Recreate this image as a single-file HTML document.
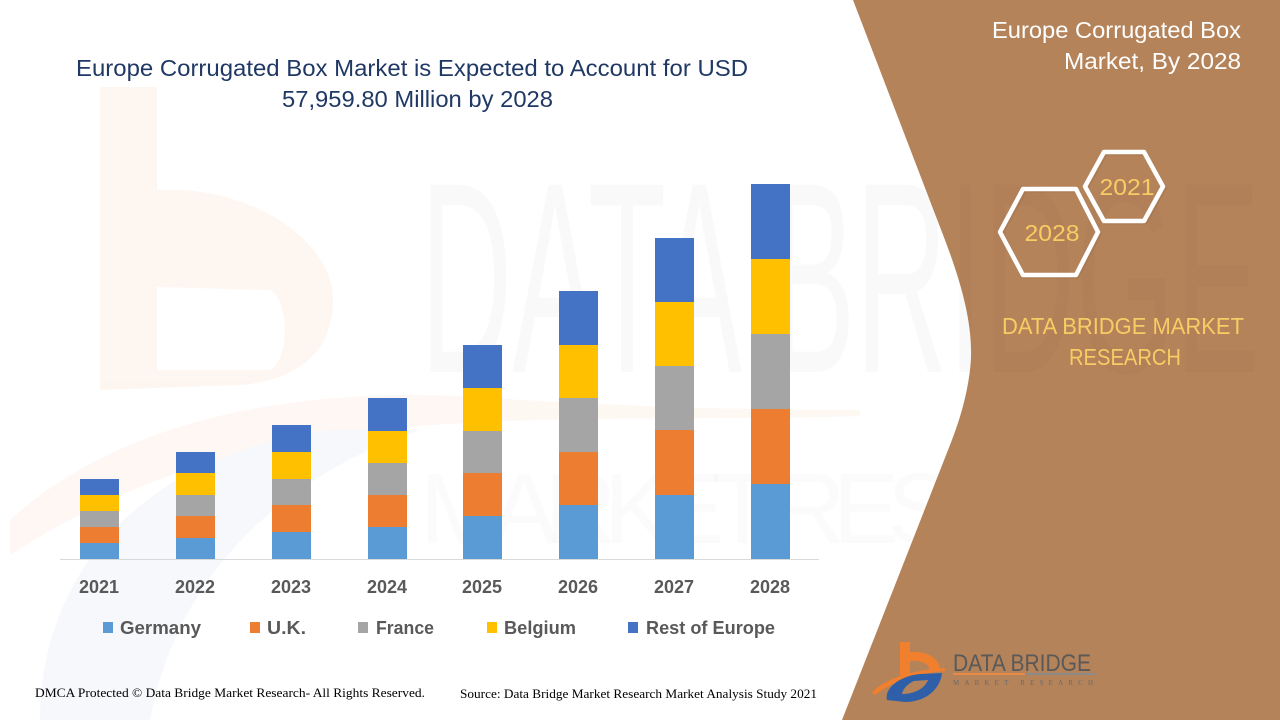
<!DOCTYPE html>
<html><head><meta charset="utf-8"><style>
html,body{margin:0;padding:0;background:#fff;}
svg{display:block;}
</style></head><body>
<svg width="1280" height="720" viewBox="0 0 1280 720" xmlns="http://www.w3.org/2000/svg">
<defs><clipPath id="cp"><path d="M853,0 L945,240 C962,285 975,330 970,370 C967,395 960,420 950,445 L842,720 L1280,720 L1280,0 Z"/></clipPath></defs>
<rect width="1280" height="720" fill="#fff"/>
<!-- watermark b logo (faint) -->
<g opacity="0.4">
<path d="M100,87 L157,87 L157,190 C250,185 333,240 333,300 C333,350 300,380 240,385 L100,390 Z M157,287 L157,370 L270,370 C290,360 290,300 270,290 Z" fill="#FCE9DC" fill-rule="evenodd"/>
<path d="M10,520 C120,420 300,380 520,400 C700,410 820,410 860,410 L860,416 C700,422 480,410 300,440 C170,465 80,510 10,555 Z" fill="#FDEDE2"/>
<path d="M40,720 C40,560 160,450 330,430 L420,430 C300,470 180,560 150,720 Z" fill="#E9EEF6"/>
</g>
<!-- watermark big text -->
<text x="420" y="372" font-family="Liberation Sans, sans-serif" font-size="272" fill="#000" fill-opacity="0.022" textLength="840" lengthAdjust="spacingAndGlyphs">DATA BRIDGE</text>
<text x="420" y="543" font-family="Liberation Sans, sans-serif" font-size="100" fill="#000" fill-opacity="0.015" textLength="840" lengthAdjust="spacing" letter-spacing="20">MARKET RESEARCH</text>

<!-- brown panel -->
<path d="M853,0 L945,240 C962,285 975,330 970,370 C967,395 960,420 950,445 L842,720 L1280,720 L1280,0 Z" fill="#B4835A"/>
<text x="420" y="372" font-family="Liberation Sans, sans-serif" font-size="272" fill="#000" fill-opacity="0.015" textLength="840" lengthAdjust="spacingAndGlyphs" clip-path="url(#cp)">DATA BRIDGE</text>

<!-- title -->
<g font-family="Liberation Sans, sans-serif" fill="#203864" font-size="23">
<text x="76" y="76" textLength="672" lengthAdjust="spacingAndGlyphs">Europe Corrugated Box Market is Expected to Account for USD</text>
<text x="282" y="107" textLength="271" lengthAdjust="spacingAndGlyphs">57,959.80 Million by 2028</text>
</g>

<!-- axis -->
<line x1="60" y1="559.5" x2="819" y2="559.5" stroke="#D9D9D9" stroke-width="1"/>

<!-- bars -->
<g>
<rect x="80" y="543" width="39" height="16" fill="#5B9BD5"/>
<rect x="80" y="527" width="39" height="16" fill="#ED7D31"/>
<rect x="80" y="511" width="39" height="16" fill="#A5A5A5"/>
<rect x="80" y="495" width="39" height="16" fill="#FFC000"/>
<rect x="80" y="479" width="39" height="16" fill="#4472C4"/>
<rect x="176" y="538" width="39" height="21" fill="#5B9BD5"/>
<rect x="176" y="516" width="39" height="22" fill="#ED7D31"/>
<rect x="176" y="495" width="39" height="21" fill="#A5A5A5"/>
<rect x="176" y="473" width="39" height="22" fill="#FFC000"/>
<rect x="176" y="452" width="39" height="21" fill="#4472C4"/>
<rect x="272" y="532" width="39" height="27" fill="#5B9BD5"/>
<rect x="272" y="505" width="39" height="27" fill="#ED7D31"/>
<rect x="272" y="479" width="39" height="26" fill="#A5A5A5"/>
<rect x="272" y="452" width="39" height="27" fill="#FFC000"/>
<rect x="272" y="425" width="39" height="27" fill="#4472C4"/>
<rect x="368" y="527" width="39" height="32" fill="#5B9BD5"/>
<rect x="368" y="495" width="39" height="32" fill="#ED7D31"/>
<rect x="368" y="463" width="39" height="32" fill="#A5A5A5"/>
<rect x="368" y="431" width="39" height="32" fill="#FFC000"/>
<rect x="368" y="398" width="39" height="33" fill="#4472C4"/>
<rect x="463" y="516" width="39" height="43" fill="#5B9BD5"/>
<rect x="463" y="473" width="39" height="43" fill="#ED7D31"/>
<rect x="463" y="431" width="39" height="42" fill="#A5A5A5"/>
<rect x="463" y="388" width="39" height="43" fill="#FFC000"/>
<rect x="463" y="345" width="39" height="43" fill="#4472C4"/>
<rect x="559" y="505" width="39" height="54" fill="#5B9BD5"/>
<rect x="559" y="452" width="39" height="53" fill="#ED7D31"/>
<rect x="559" y="398" width="39" height="54" fill="#A5A5A5"/>
<rect x="559" y="345" width="39" height="53" fill="#FFC000"/>
<rect x="559" y="291" width="39" height="54" fill="#4472C4"/>
<rect x="655" y="495" width="39" height="64" fill="#5B9BD5"/>
<rect x="655" y="430" width="39" height="65" fill="#ED7D31"/>
<rect x="655" y="366" width="39" height="64" fill="#A5A5A5"/>
<rect x="655" y="302" width="39" height="64" fill="#FFC000"/>
<rect x="655" y="238" width="39" height="64" fill="#4472C4"/>
<rect x="751" y="484" width="39" height="75" fill="#5B9BD5"/>
<rect x="751" y="409" width="39" height="75" fill="#ED7D31"/>
<rect x="751" y="334" width="39" height="75" fill="#A5A5A5"/>
<rect x="751" y="259" width="39" height="75" fill="#FFC000"/>
<rect x="751" y="184" width="39" height="75" fill="#4472C4"/>
</g>

<!-- year labels -->
<g font-family="Liberation Sans, sans-serif" font-weight="bold" font-size="18" fill="#595959" text-anchor="middle">
<text x="99" y="593">2021</text>
<text x="195" y="593">2022</text>
<text x="291" y="593">2023</text>
<text x="387" y="593">2024</text>
<text x="482" y="593">2025</text>
<text x="578" y="593">2026</text>
<text x="674" y="593">2027</text>
<text x="770" y="593">2028</text>
</g>

<!-- legend -->
<g font-family="Liberation Sans, sans-serif" font-weight="bold" font-size="18" fill="#595959">
<rect x="103" y="622" width="10" height="11" fill="#5B9BD5"/>
<text x="120" y="634" textLength="81" lengthAdjust="spacingAndGlyphs">Germany</text>
<rect x="250" y="622" width="10" height="11" fill="#ED7D31"/>
<text x="267" y="634" textLength="39" lengthAdjust="spacingAndGlyphs">U.K.</text>
<rect x="358" y="622" width="10" height="11" fill="#A5A5A5"/>
<text x="376" y="634" textLength="58" lengthAdjust="spacingAndGlyphs">France</text>
<rect x="487" y="622" width="10" height="11" fill="#FFC000"/>
<text x="504" y="634" textLength="72" lengthAdjust="spacingAndGlyphs">Belgium</text>
<rect x="628" y="622" width="10" height="11" fill="#4472C4"/>
<text x="646" y="634" textLength="129" lengthAdjust="spacingAndGlyphs">Rest of Europe</text>
</g>

<!-- footer -->
<g font-family="Liberation Serif, serif" font-size="12.5" fill="#000">
<text x="35" y="697" textLength="390" lengthAdjust="spacingAndGlyphs">DMCA Protected © Data Bridge Market Research- All Rights Reserved.</text>
<text x="460" y="698" textLength="357" lengthAdjust="spacingAndGlyphs">Source: Data Bridge Market Research Market Analysis Study 2021</text>
</g>

<!-- right panel title -->
<g font-family="Liberation Sans, sans-serif" font-size="23" fill="#fff" text-anchor="end">
<text x="1241" y="38" textLength="249" lengthAdjust="spacingAndGlyphs">Europe Corrugated Box</text>
<text x="1241" y="69" textLength="177" lengthAdjust="spacingAndGlyphs">Market, By 2028</text>
</g>

<!-- hexagons -->
<g fill="none" stroke="#FFFFFF" stroke-width="4.5" stroke-linejoin="round">
<polygon points="1085,186.5 1104,152 1144,152 1163,186.5 1144,221 1104,221" stroke="#9c7049" stroke-opacity="0.35" transform="translate(1.5,1.5)"/>
<polygon points="1085,186.5 1104,152 1144,152 1163,186.5 1144,221 1104,221"/>
<polygon points="1000,232 1023,189 1076,189 1098,232 1076,275 1023,275" stroke="#9c7049" stroke-opacity="0.35" transform="translate(1.5,1.5)"/>
<polygon points="1000,232 1023,189 1076,189 1098,232 1076,275 1023,275"/>
</g>
<g font-family="Liberation Sans, sans-serif" font-size="23" fill="#F8CC64" text-anchor="middle">
<text x="1127" y="195" textLength="55" lengthAdjust="spacingAndGlyphs">2021</text>
<text x="1052" y="241" textLength="55" lengthAdjust="spacingAndGlyphs">2028</text>
</g>

<!-- DBMR text -->
<g font-family="Liberation Sans, sans-serif" font-size="23" fill="#F8CC64">
<text x="1002" y="334" textLength="242" lengthAdjust="spacingAndGlyphs">DATA BRIDGE MARKET</text>
<text x="1069" y="365" textLength="112" lengthAdjust="spacingAndGlyphs">RESEARCH</text>
</g>

<!-- bottom-right logo -->
<g>
<path d="M900,642 L910,642 L910,652 C928,650 940,660 940,670 L930,672 C930,664 922,660 910,661 L910,675 L900,677 Z" fill="#F07F2E"/>
<path d="M872,692 C890,676 915,670 945,668 L945,671 C915,674 892,682 875,695 Z" fill="#F07F2E"/>
<path d="M887,700 C884,688 900,676 920,674 L942,673 C940,690 925,702 905,702 Z M902,694 C915,694 925,688 928,680 L914,681 C907,684 903,689 902,694 Z" fill="#2E5FA8" fill-rule="evenodd"/>
<text x="953" y="671" font-family="Liberation Sans, sans-serif" font-size="24" fill="#595959" textLength="138" lengthAdjust="spacingAndGlyphs">DATA BRIDGE</text>
<rect x="953" y="673" width="72" height="2" fill="#E98A4A"/>
<rect x="1025" y="673" width="70" height="2" fill="#8B8B8B"/>
<text x="953" y="685" font-family="Liberation Serif, serif" font-size="7" fill="#6a6a6a" textLength="140" lengthAdjust="spacing">MARKET   RESEARCH</text>
</g>
</svg>
</body></html>
